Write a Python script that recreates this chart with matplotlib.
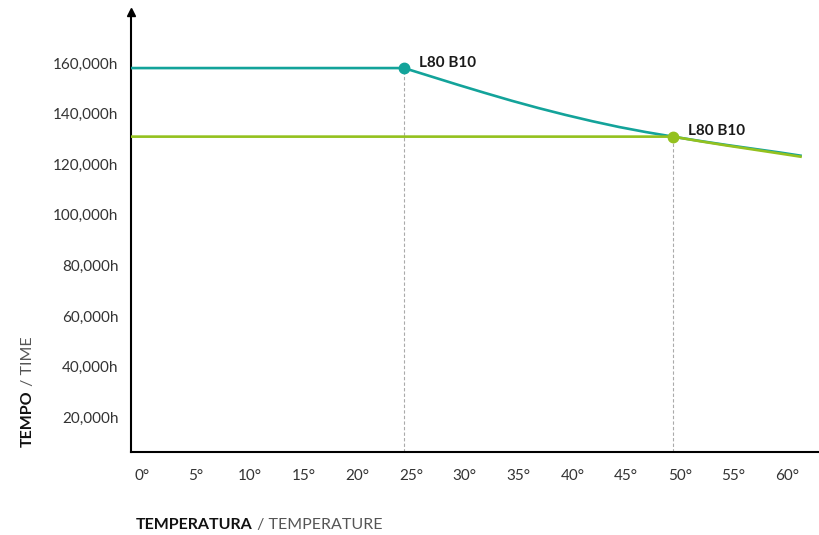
import matplotlib.pyplot as plt
from matplotlib.transforms import ScaledTranslation

plt.rcParams['font.family'] = ['Lato', 'DejaVu Sans']

# lifetime (hours) vs ambient temperature, two LED drivers
temp_a = [25, 27.5, 30, 32.5, 35, 37.5, 40, 42.5, 45, 47.5, 50, 52.5, 55, 57.5, 60, 62]
life_a = [158000, 154700, 151400, 148200, 145100, 142200, 139500, 137000,
          134700, 132700, 130900, 129200, 127600, 126100, 124600, 123300]
temp_b = [50, 52.5, 55, 57.5, 60, 62]
life_b = [130900, 129100, 127400, 125800, 124200, 122900]

rated_label = 'L80 B10'

x_ticks = list(range(0, 61, 5))
y_ticks = [20000, 40000, 60000, 80000, 100000, 120000, 140000, 160000]

teal = '#13a39a'
green = '#94c11f'

fig = plt.figure(figsize=(8.19, 5.35), dpi=100)
ax = fig.add_axes([131 / 819, 83 / 535, 688 / 819, 440 / 535])
ax.set_xlim(-0.4, 63.6)
ax.set_ylim(6245, 180160)
x0 = ax.get_xlim()[0]

for temps, life, col in [(temp_a, life_a, teal), (temp_b, life_b, green)]:
    ax.plot([x0] + temps, [life[0]] + life, color=col, lw=1.9,
            solid_capstyle='butt', zorder=3)
    ax.plot(temps[0], life[0], 'o', color=col, ms=7.5, zorder=4)
    ax.vlines(temps[0], ax.get_ylim()[0], life[0], colors='#aaaaaa',
              lw=0.8, linestyles=(0, (3, 2)), zorder=2)
    ax.annotate(rated_label, (temps[0], life[0]), xytext=(11, 4),
                textcoords='offset points', fontsize=11, fontweight='bold',
                color='#1a1a1a', va='center', ha='left')

for side in ['top', 'right']:
    ax.spines[side].set_visible(False)
for side in ['left', 'bottom']:
    ax.spines[side].set_linewidth(1.5)
ax.plot(0, 1, '^', color='black', ms=6, transform=ax.transAxes, clip_on=False)

ax.set_xticks(x_ticks)
ax.set_xticklabels([f'{t}°' for t in x_ticks])
ax.set_yticks(y_ticks)
ax.set_yticklabels([f'{v:,}h' for v in y_ticks])
ax.tick_params(axis='x', length=0, pad=12, labelsize=11, labelcolor='#333333')
ax.tick_params(axis='y', length=0, pad=9, labelsize=11, labelcolor='#333333')

# nudge the degree labels a little to the right
shift = ScaledTranslation(7 / 100, 0, fig.dpi_scale_trans)
for lbl in ax.get_xticklabels():
    lbl.set_transform(lbl.get_transform() + shift)

# two-weight axis titles
t1 = fig.text(136 / 819, 6 / 535, 'TEMPERATURA', fontsize=11.5,
              fontweight='bold', color='#111111', va='baseline')
ax.annotate(' / TEMPERATURE', xy=(1, 0), xycoords=t1, fontsize=11.5,
            color='#555555', va='bottom', ha='left', annotation_clip=False)

t2 = fig.text(28 / 819, 88 / 535, 'TEMPO', fontsize=11.5, fontweight='bold',
              color='#111111', rotation=90, ha='center', va='bottom')
ax.annotate(' / TIME', xy=(0.5, 1), xycoords=t2, fontsize=11.5,
            color='#555555', rotation=90, ha='center', va='bottom',
            annotation_clip=False)

fig.savefig('out.png', dpi=100)
